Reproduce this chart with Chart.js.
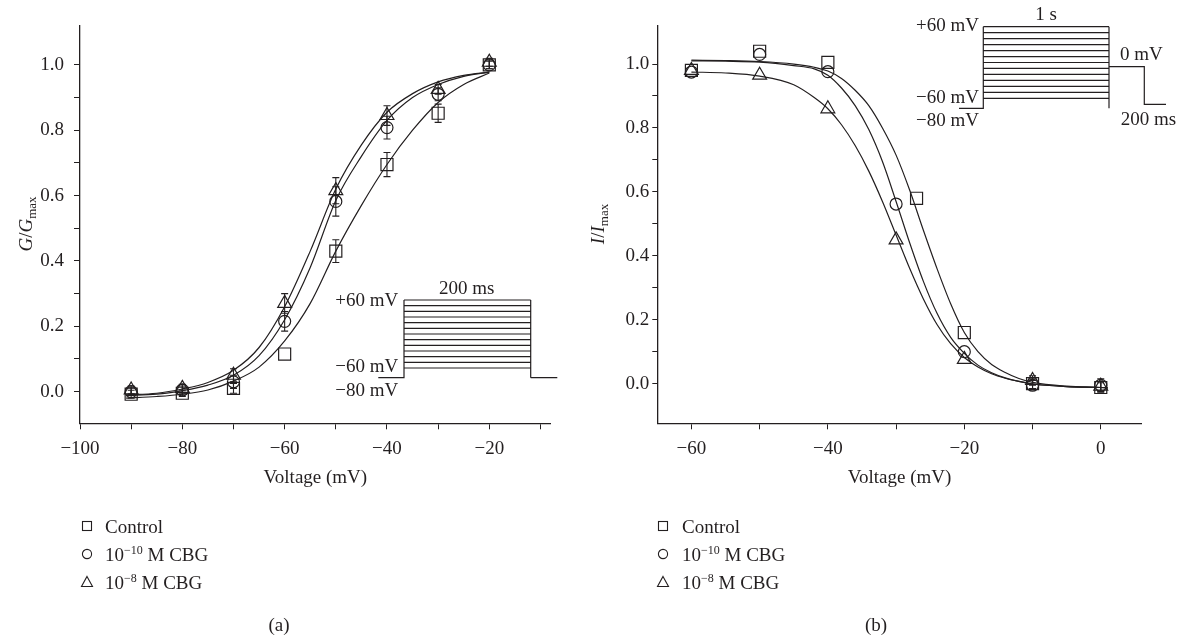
<!DOCTYPE html>
<html>
<head>
<meta charset="utf-8">
<script src="https://cdn.jsdelivr.net/npm/chart.js@4.4.1/dist/chart.umd.min.js"></script>
<style>
  html, body { margin: 0; padding: 0; background: #fff; }
  #wrap { position: relative; width: 1183px; height: 637px; overflow: hidden;
          font-family: 'Liberation Serif', 'Times New Roman', serif; color: #231f20; }
  canvas { position: absolute; top: 0; }
  .lbl { position: absolute; font-size: 19px; line-height: 1; white-space: nowrap; transform: translate(0, -50%); }
  .ytitle { position: absolute; font-size: 19px; line-height: 1; white-space: nowrap;
            transform: translate(-50%, -50%) rotate(-90deg); }
  .ytitle sub { font-size: 13px; vertical-align: -4px; }
  .lbl sup { font-size: 12px; vertical-align: 7px; }
  .mk { position: absolute; transform: translate(-50%, -50%); }
  #inset { position: absolute; left: 0; top: 0; }
</style>
</head>
<body>
<div id="wrap">
  <canvas id="chartA" width="592" height="500" style="left:0"></canvas>
  <canvas id="chartB" width="591" height="500" style="left:592px"></canvas>
  <svg id="inset" width="1183" height="637"></svg>

  <div class="ytitle" style="left:27px; top:224px"><i>G</i>/<i>G</i><sub>max</sub></div>
  <div class="ytitle" style="left:599px; top:224px"><i>I</i>/<i>I</i><sub>max</sub></div>

  <div id="legendA"></div>
  <div id="legendB"></div>

  <div class="lbl" style="left:279px; top:624px; transform:translate(-50%,-50%)">(a)</div>
  <div class="lbl" style="left:876px; top:624px; transform:translate(-50%,-50%)">(b)</div>
</div>

<script>
const ink = '#231f20';
const serif = "'Liberation Serif', 'Times New Roman', serif";

// ---- panel (a): G/Gmax vs voltage ----
const gVolt = [-90, -80, -70, -60, -50, -40, -30, -20];
const gControl = [-0.008, -0.005, 0.01, 0.115, 0.43, 0.695, 0.852, 1.0];
const gControlErr = [0.012, 0.01, 0.015, 0, 0.035, 0.037, 0.028, 0.012];
const gCbg10 = [0.0, 0.005, 0.03, 0.215, 0.582, 0.808, 0.91, 1.0];
const gCbg10Err = [0.012, 0.012, 0.02, 0.03, 0.045, 0.035, 0.02, 0.012];
const gCbg8 = [0.005, 0.01, 0.05, 0.27, 0.615, 0.845, 0.925, 1.008];
const gCbg8Err = [0.012, 0.012, 0.02, 0.03, 0.04, 0.03, 0.015, 0.012];

const gFitVolt = [-91, -85, -80, -75, -70, -65, -60, -55, -50, -45, -40, -35, -30, -25, -20];
const gFitControl = [-0.02, -0.015, -0.008, 0.005, 0.032, 0.075, 0.155, 0.27, 0.43, 0.57, 0.695, 0.8, 0.885, 0.94, 0.975];
const gFitCbg10 = [-0.012, -0.008, 0.003, 0.02, 0.05, 0.11, 0.22, 0.38, 0.585, 0.72, 0.83, 0.9, 0.94, 0.965, 0.978];
const gFitCbg8 = [-0.01, -0.005, 0.008, 0.028, 0.065, 0.135, 0.26, 0.43, 0.62, 0.755, 0.855, 0.912, 0.948, 0.968, 0.978];

const gXTicks = [-100, -90, -80, -70, -60, -50, -40, -30, -20, -10];
const gYTicks = [0, 0.1, 0.2, 0.3, 0.4, 0.5, 0.6, 0.7, 0.8, 0.9, 1.0];

// ---- panel (b): I/Imax vs voltage ----
const rControlVolt = [-60, -50, -40, -27, -20, -10, 0];
const rControl = [0.98, 1.04, 1.005, 0.58, 0.16, 0.0, -0.012];
const rControlErr = [0, 0, 0, 0, 0, 0.015, 0.015];
const rVolt = [-60, -50, -40, -30, -20, -10, 0];
const rCbg10 = [0.975, 1.03, 0.976, 0.562, 0.1, -0.005, -0.005];
const rCbg10Err = [0, 0, 0, 0, 0, 0.015, 0.02];
const rCbg8 = [0.98, 0.965, 0.86, 0.45, 0.076, 0.01, -0.008];
const rCbg8Err = [0, 0, 0, 0, 0, 0.015, 0.015];

const rFitVolt = [-60, -55, -50, -45, -42, -40, -38, -36, -34, -32, -30, -28, -26, -24, -22, -20, -18, -16, -14, -12, -10, -5, 0, 1];
const rFitControl = [1.012, 1.011, 1.008, 1.0, 0.99, 0.978, 0.955, 0.918, 0.87, 0.8, 0.715, 0.605, 0.48, 0.36, 0.25, 0.16, 0.1, 0.06, 0.035, 0.016, 0.004, -0.008, -0.012, -0.013];
const rFitCbg10 = [1.01, 1.009, 1.006, 0.995, 0.985, 0.965, 0.925, 0.87, 0.795, 0.695, 0.57, 0.44, 0.32, 0.22, 0.145, 0.095, 0.058, 0.034, 0.018, 0.007, -0.001, -0.009, -0.012, -0.013];
const rFitCbg8 = [0.975, 0.972, 0.962, 0.935, 0.895, 0.86, 0.81, 0.745, 0.665, 0.57, 0.465, 0.36, 0.265, 0.185, 0.125, 0.082, 0.052, 0.031, 0.017, 0.007, -0.001, -0.009, -0.012, -0.013];

const rXTicks = [-60, -50, -40, -30, -20, -10, 0];
const rYTicks = [0, 0.1, 0.2, 0.3, 0.4, 0.5, 0.6, 0.7, 0.8, 0.9, 1.0];

// voltage steps of the stimulation protocols
const stepLevels = [60, 50, 40, 30, 20, 10, 0, -10, -20, -30, -40, -50, -60];

const seriesNames = ['Control', '10^-10 M CBG', '10^-8 M CBG'];
const seriesStyles = ['rect', 'circle', 'triangle'];
const seriesRadius = [8.5, 6, 8];

const pts = (xs, ys) => xs.map((x, i) => ({ x, y: ys[i] }));
const fmtX = (v) => (v < 0 ? '\u2212' + Math.abs(v) : String(v));

const errorBars = {
  id: 'errorBars',
  afterDatasetsDraw(chart) {
    const ctx = chart.ctx;
    const yScale = chart.scales.y;
    chart.data.datasets.forEach((ds, i) => {
      if (!ds.errors) return;
      const meta = chart.getDatasetMeta(i);
      ctx.save();
      ctx.strokeStyle = ink;
      ctx.lineWidth = 1.1;
      meta.data.forEach((el, j) => {
        const e = ds.errors[j];
        if (!e) return;
        const top = yScale.getPixelForValue(ds.data[j].y + e);
        const bot = yScale.getPixelForValue(ds.data[j].y - e);
        ctx.beginPath();
        ctx.moveTo(el.x, top); ctx.lineTo(el.x, bot);
        ctx.moveTo(el.x - 3.5, top); ctx.lineTo(el.x + 3.5, top);
        ctx.moveTo(el.x - 3.5, bot); ctx.lineTo(el.x + 3.5, bot);
        ctx.stroke();
      });
      ctx.restore();
    });
  },
};

function markerSet(xsList, ysList, errList) {
  return ysList.map((ys, k) => ({
    data: pts(xsList[k], ys),
    errors: errList[k],
    showLine: false,
    pointStyle: seriesStyles[k],
    pointRadius: seriesRadius[k],
    pointBorderWidth: 1.2,
    pointBorderColor: ink,
    pointBackgroundColor: 'rgba(0,0,0,0)',
  }));
}

function fitSet(xs, ysList) {
  return ysList.map((ys) => ({
    data: pts(xs, ys),
    showLine: true,
    pointRadius: 0,
    borderColor: ink,
    borderWidth: 1.2,
    cubicInterpolationMode: 'monotone',
    fill: false,
  }));
}

function makePanel(id, p) {
  const font = { family: serif, size: 19 };
  return new Chart(document.getElementById(id), {
    type: 'scatter',
    data: { datasets: [...fitSet(p.fitX, p.fits), ...markerSet(p.markX, p.marks, p.errs)] },
    plugins: [errorBars],
    options: {
      responsive: false,
      animation: false,
      layout: { padding: { top: 26, right: p.padRight, left: 0, bottom: 0 } },
      plugins: { legend: { display: false }, tooltip: { enabled: false } },
      scales: {
        x: {
          type: 'linear',
          min: p.xMin,
          max: p.xMax,
          afterBuildTicks: (s) => { s.ticks = p.xTicks.map((v) => ({ value: v })); },
          afterFit: (s) => { s.height = 76.7; },
          ticks: { callback: (v) => (v % 20 === 0 ? fmtX(v) : ''), font, color: ink, padding: 8, autoSkip: false, maxRotation: 0 },
          grid: { drawOnChartArea: false, tickLength: 6, color: ink, lineWidth: 1 },
          border: { color: ink, width: 1.3 },
          title: { display: true, text: 'Voltage (mV)', font, color: ink, padding: { top: 0, bottom: 11 } },
        },
        y: {
          type: 'linear',
          min: p.yMin,
          max: p.yMax,
          afterBuildTicks: (s) => { s.ticks = p.yTicks.map((v) => ({ value: v })); },
          afterFit: (s) => { s.width = p.yWidth; },
          ticks: { callback: (v) => (Math.round(v * 10) % 2 === 0 ? v.toFixed(1) : ''), font, color: ink, padding: p.yPad, autoSkip: false },
          grid: { drawOnChartArea: false, tickLength: p.yTick, color: ink, lineWidth: 1 },
          border: { color: ink, width: 1.3 },
        },
      },
    },
  });
}

makePanel('chartA', {
  xMin: -100, xMax: -8, yMin: -0.097, yMax: 1.119,
  xTicks: gXTicks, yTicks: gYTicks,
  fitX: gFitVolt, fits: [gFitControl, gFitCbg10, gFitCbg8],
  markX: [gVolt, gVolt, gVolt], marks: [gControl, gCbg10, gCbg8], errs: [gControlErr, gCbg10Err, gCbg8Err],
  padRight: 41.3, yWidth: 80, yPad: 10, yTick: 6,
});

makePanel('chartB', {
  xMin: -65, xMax: 6, yMin: -0.124, yMax: 1.119,
  xTicks: rXTicks, yTicks: rYTicks,
  fitX: rFitVolt, fits: [rFitControl, rFitCbg10, rFitCbg8],
  markX: [rControlVolt, rVolt, rVolt], marks: [rControl, rCbg10, rCbg8], errs: [rControlErr, rCbg10Err, rCbg8Err],
  padRight: 41.3, yWidth: 65.3, yPad: 3, yTick: 5,
});

// ---- stimulation protocol insets ----
const svg = document.getElementById('inset');
const NS = 'http://www.w3.org/2000/svg';
function add(tag, attrs, text) {
  const el = document.createElementNS(NS, tag);
  Object.entries(attrs).forEach(([k, v]) => el.setAttribute(k, v));
  if (text) el.textContent = text;
  svg.appendChild(el);
  return el;
}
function protocol(b) {
  const yOf = (v) => b.yTop + ((60 - v) / 120) * (b.yBot - b.yTop);
  let d = `M${b.holdL},${b.yHold} H${b.x0} V${b.yTop} M${b.x1},${b.yTop} V${b.yHold}`;
  stepLevels.forEach((v) => { d += ` M${b.x0},${yOf(v)} H${b.x1}`; });
  d += b.tail;
  add('path', { d, fill: 'none', stroke: ink, 'stroke-width': 1.2 });
  b.labels.forEach(([txt, x, y, anchor]) => {
    add('text', { x, y, 'text-anchor': anchor, 'font-family': serif, 'font-size': 19, fill: ink }, txt);
  });
}
protocol({
  x0: 404, x1: 530.7, yTop: 300, yBot: 368, yHold: 377.7, holdL: 378.3,
  tail: ' M530.7,377.7 H557.3',
  labels: [['200 ms', 466.7, 293.5, 'middle'], ['+60 mV', 398.3, 305.5, 'end'],
           ['\u221260 mV', 398.3, 372.2, 'end'], ['\u221280 mV', 398.3, 395.5, 'end']],
});
protocol({
  x0: 983.3, x1: 1109, yTop: 26.7, yBot: 98.3, yHold: 108.3, holdL: 959,
  tail: ' M1109,66.7 H1144.3 V104.3 H1166',
  labels: [['1 s', 1046, 19.5, 'middle'], ['+60 mV', 979, 30.5, 'end'], ['0 mV', 1120, 59.8, 'start'],
           ['\u221260 mV', 979, 102.5, 'end'], ['\u221280 mV', 979, 125.8, 'end'], ['200 ms', 1120.7, 124.8, 'start']],
});

// ---- legends ----
const markerSvg = {
  rect: '<svg width="14" height="14"><rect x="2.5" y="2.5" width="9" height="9" fill="none" stroke="#231f20" stroke-width="1.1"/></svg>',
  circle: '<svg width="14" height="14"><circle cx="7" cy="7" r="4.6" fill="none" stroke="#231f20" stroke-width="1.1"/></svg>',
  triangle: '<svg width="14" height="14"><path d="M7,1.5 L12.5,11.5 L1.5,11.5 Z" fill="none" stroke="#231f20" stroke-width="1.1"/></svg>',
};
function legendHtml(markX, textX) {
  const rowsY = [526, 554, 582];
  return seriesNames.map((name, k) => {
    const parts = name.split('^');
    let label = parts[0];
    if (parts.length > 1) {
      const [exp, ...rest] = parts[1].split(' ');
      label = parts[0] + '<sup>' + exp.replace('-', '\u2212') + '</sup> ' + rest.join(' ');
    }
    return `<div class="mk" style="left:${markX}px; top:${rowsY[k]}px; width:14px; height:14px">${markerSvg[seriesStyles[k]]}</div>` +
           `<div class="lbl" style="left:${textX}px; top:${rowsY[k]}px">${label}</div>`;
  }).join('');
}
document.getElementById('legendA').innerHTML = legendHtml(87, 105);
document.getElementById('legendB').innerHTML = legendHtml(663, 682);
</script>
</body>
</html>
